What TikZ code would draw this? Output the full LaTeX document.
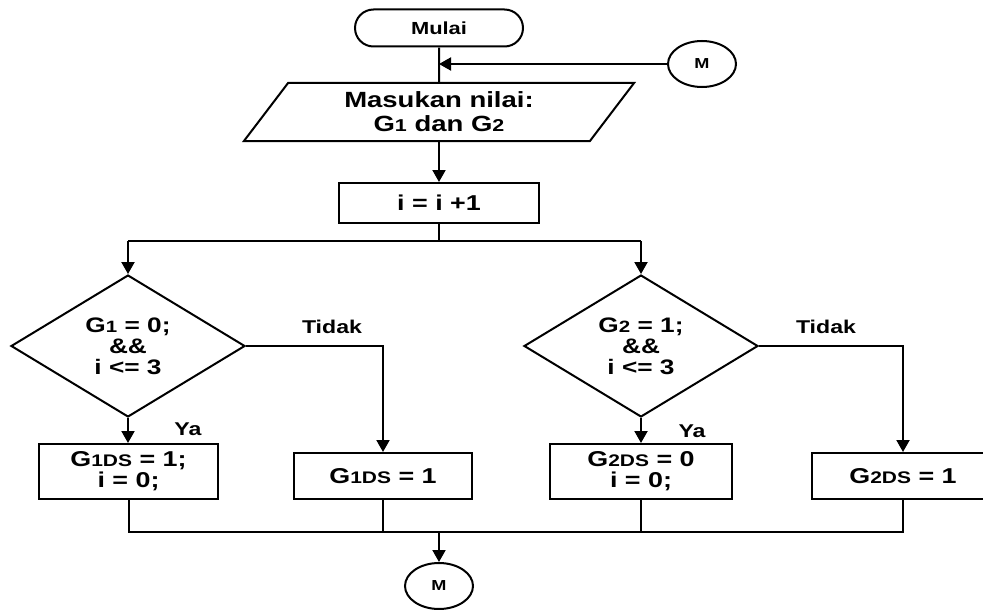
\documentclass[tikz,border=0pt]{standalone}
\usepackage{fontspec}
\setmainfont{Liberation Sans}[FakeStretch=1.25]
\usetikzlibrary{arrows.meta, positioning, calc, shapes.geometric, shapes.misc}
% smaller index letters sitting on the baseline
\newcommand{\subs}[1]{{\fontsize{.78em}{0pt}\selectfont #1}}
\tikzset{
  >={Triangle[length=12pt,width=13pt]},
  shape box/.style={draw, line width=2pt, inner sep=0pt, align=center},
  term/.style={shape box, rounded rectangle, minimum width=168pt, minimum height=37pt,
    font=\bfseries\fontsize{17.5}{19}\selectfont},
  io/.style={shape box, trapezium, trapezium left angle=55.4, trapezium right angle=124.6,
    trapezium stretches=true, minimum width=391pt, minimum height=58pt,
    font=\bfseries\fontsize{22}{24}\selectfont},
  proc/.style={shape box, rectangle, minimum width=#1, font=\bfseries\fontsize{21.5}{21}\selectfont},
  proc/.default=180pt,
  dec/.style={shape box, diamond, minimum width=234pt, minimum height=126pt,
    font=\bfseries\fontsize{21}{21}\selectfont},
  conn/.style={shape box, ellipse, minimum width=68pt, minimum height=46pt,
    font=\bfseries\fontsize{14.5}{16}\selectfont},
  flowline/.style={line width=2pt, draw=black},
  arr/.style={flowline, ->},
  lab/.style={font=\bfseries\fontsize{18.5}{20}\selectfont, inner sep=0pt}
}
\begin{document}
\begin{tikzpicture}[x=1pt,y=-1pt]
  \useasboundingbox (0,0) rectangle (983,610);
  % start, input and counter
  \node[term] (mulai) at (439,28) {Mulai};
  \node[conn] (mtop) at (702,64) {M};
  \node[io] (in) at (439,112) {Masukan nilai:\\G\subs{1} dan G\subs{2}};
  \node[proc=200pt, minimum height=40pt] (inc) at (439,203) {i = i +1};
  % the two tests
  \node[dec] (d1) at (128,346) {G\subs{1} = 0;\\\&\&\\i <= 3};
  \node[dec] (d2) at (641,346) {G\subs{2} = 1;\\\&\&\\i <= 3};
  % results
  \node[proc=179pt, minimum height=55pt] (b1) at (128.5,471.5) {G\subs{1DS} = 1;\\i = 0;};
  \node[proc=178pt, minimum height=46pt] (b2) at (383,476) {G\subs{1DS} = 1};
  \node[proc=182pt, minimum height=55pt] (b3) at (641,471.5) {G\subs{2DS} = 0\\i = 0;};
  \node[proc=182pt, minimum height=46pt] (b4) at (903,476) {G\subs{2DS} = 1};
  \node[conn] (mbot) at (439,586) {M};
  \node[lab] (t1) at (332,327) {Tidak};
  \node[lab] (t2) at (826,327) {Tidak};
  \node[lab] (y1) at (188,429) {Ya};
  \node[lab] (y2) at (692,431) {Ya};
  \coordinate (split) at (439,241);
  \coordinate (merge) at (439,532);

  \draw[flowline] (mulai) -- (in);
  \draw[arr] (mtop) -- (mulai |- mtop);
  \draw[arr] (in) -- (inc);
  \draw[flowline] (inc) -- (split);
  \draw[flowline] (split -| d1.north) -- (split -| d2.north);
  \draw[arr] (split -| d1.north) -- (d1.north);
  \draw[arr] (split -| d2.north) -- (d2.north);
  \draw[arr] (d1.south) -- (d1.south |- b1.north);
  \draw[arr] (d2.south) -- (d2.south |- b3.north);
  \draw[arr] (d1.east) -| (b2.north);
  \draw[arr] (d2.east) -| (b4.north);
  % join all four results
  \draw[flowline] (b1.south) |- (merge -| b4.south) -- (b4.south);
  \draw[flowline] (b2.south) -- (b2.south |- merge);
  \draw[flowline] (b3.south) -- (b3.south |- merge);
  \draw[arr] (merge) -- (mbot);
\end{tikzpicture}
\end{document}
